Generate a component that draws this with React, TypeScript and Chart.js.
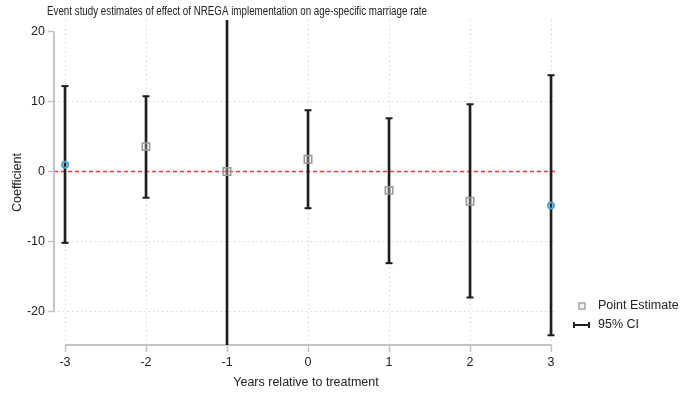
import { useEffect, useRef } from 'react';
import { Chart, registerables } from 'chart.js';

Chart.register(...registerables);

const years = [-3, -2, -1, 0, 1, 2, 3];
const estimates = [0.95, 3.55, 0.0, 1.75, -2.7, -4.25, -4.85];
const ciLower = [-10.2, -3.75, -40, -5.25, -13.1, -18.0, -23.4];
const ciUpper = [12.2, 10.75, 40, 8.75, 7.6, 9.6, 13.75];
const highlightYears = [-3, 3];
const xTicks = [-3, -2, -1, 0, 1, 2, 3];
const yTicks = [-20, -10, 0, 10, 20];

const titleText = 'Event study estimates of effect of NREGA implementation on age-specific marriage rate';
const xTitle = 'Years relative to treatment';
const yTitle = 'Coefficient';
const legendLabels = ['Point Estimate', '95% CI'];

const FONT = '"Liberation Sans", Arial, Helvetica, sans-serif';
const FS = 12.5;
const TEXT = '#222222';
const AXIS = '#c4c4c4';
const GRID = '#d6d6d6';
const CI_COLOR = '#1e1e1e';
const BLUE = '#4ea3da';
const SQUARE = '#9a9a9a';
const TITLE_WIDTH = 380;

const decor = {
  id: 'decor',
  beforeDatasetsDraw(chart: any) {
    const { ctx, chartArea, scales } = chart;
    const x = scales.x;
    const y = scales.y;
    ctx.save();
    ctx.strokeStyle = '#f23a3a';
    ctx.lineWidth = 1.5;
    ctx.setLineDash([4, 3]);
    const y0 = y.getPixelForValue(0);
    ctx.beginPath();
    ctx.moveTo(chartArea.left, y0);
    ctx.lineTo(chartArea.right, y0);
    ctx.stroke();
    ctx.setLineDash([]);
    ctx.strokeStyle = AXIS;
    ctx.lineWidth = 2;
    ctx.beginPath();
    ctx.moveTo(chartArea.left, y.getPixelForValue(yTicks[yTicks.length - 1]));
    ctx.lineTo(chartArea.left, y.getPixelForValue(yTicks[0]));
    ctx.stroke();
    ctx.beginPath();
    ctx.moveTo(x.getPixelForValue(xTicks[0]), chartArea.bottom);
    ctx.lineTo(x.getPixelForValue(xTicks[xTicks.length - 1]), chartArea.bottom);
    ctx.stroke();
    ctx.restore();
  },
  afterDraw(chart: any) {
    const { ctx } = chart;
    ctx.save();
    ctx.font = `${FS}px ${FONT}`;
    ctx.fillStyle = TEXT;
    ctx.textBaseline = 'middle';
    ctx.textAlign = 'left';
    // condensed title
    const w = ctx.measureText(titleText).width;
    ctx.save();
    ctx.translate(47, 12);
    ctx.scale(TITLE_WIDTH / w, 1);
    ctx.fillText(titleText, 0, 0);
    ctx.restore();
    // legend
    ctx.strokeStyle = SQUARE;
    ctx.lineWidth = 1.3;
    ctx.fillStyle = 'rgba(215,215,215,0.35)';
    ctx.fillRect(579, 303, 6, 6);
    ctx.strokeRect(579, 303, 6, 6);
    ctx.strokeStyle = CI_COLOR;
    ctx.lineWidth = 2;
    ctx.beginPath();
    ctx.moveTo(573, 325);
    ctx.lineTo(590, 325);
    ctx.moveTo(574, 322);
    ctx.lineTo(574, 328);
    ctx.moveTo(589, 322);
    ctx.lineTo(589, 328);
    ctx.stroke();
    ctx.fillStyle = TEXT;
    ctx.fillText(legendLabels[0], 598, 306);
    ctx.fillText(legendLabels[1], 598, 325);
    ctx.restore();
  },
};

export default function App() {
  const ref = useRef<HTMLCanvasElement | null>(null);
  useEffect(() => {
    document.body.style.margin = '0';
    const canvas = ref.current;
    if (!canvas) return;
    const isHi = (v: number) => highlightYears.includes(v);
    const chart = new Chart(canvas, {
      type: 'scatter',
      data: {
        datasets: [
          {
            type: 'bar',
            label: '95% CI',
            data: years.map((v, i) => ({ x: v, y: [ciLower[i], ciUpper[i]] })) as any,
            backgroundColor: CI_COLOR,
            borderWidth: 0,
            barThickness: 2,
            grouped: false,
            order: 3,
          } as any,
          {
            type: 'scatter',
            label: 'caps',
            data: years.flatMap((v, i) => [
              { x: v, y: ciLower[i] },
              { x: v, y: ciUpper[i] },
            ]),
            pointStyle: 'line',
            pointRadius: 3.5,
            pointBorderWidth: 2,
            borderColor: CI_COLOR,
            order: 2,
          } as any,
          {
            type: 'scatter',
            label: 'Point Estimate',
            data: years.map((v, i) => ({ x: v, y: estimates[i] })),
            pointStyle: years.map((v) => (isHi(v) ? 'circle' : 'rect')),
            pointRadius: years.map((v) => (isHi(v) ? 3 : 5.3)),
            pointBorderWidth: years.map((v) => (isHi(v) ? 2 : 1.5)),
            pointBorderColor: years.map((v) => (isHi(v) ? BLUE : SQUARE)),
            pointBackgroundColor: years.map((v) => (isHi(v) ? 'rgba(255,255,255,0)' : 'rgba(215,215,215,0.35)')),
            order: 1,
          } as any,
        ],
      },
      options: {
        animation: false,
        responsive: false,
        devicePixelRatio: 1,
        layout: { padding: { top: 20, right: 124, left: 0, bottom: 0 } },
        plugins: {
          legend: { display: false },
          title: { display: false },
          tooltip: { enabled: false },
        },
        scales: {
          x: {
            type: 'linear',
            min: -3.136,
            max: 3.086,
            offset: false,
            afterFit: (s: any) => {
              s.height = 50;
            },
            afterBuildTicks: (s: any) => {
              s.ticks = xTicks.map((v) => ({ value: v }));
            },
            ticks: {
              font: { family: FONT, size: FS },
              color: TEXT,
              padding: 3,
              callback: (v: any) => String(v),
            },
            grid: {
              offset: false,
              color: GRID,
              lineWidth: 1,
              drawTicks: true,
              tickLength: 7,
              tickColor: AXIS,
              tickWidth: 1.5,
            },
            border: { display: false, dash: [1.5, 3] },
            title: {
              display: true,
              text: xTitle,
              font: { family: FONT, size: FS },
              color: TEXT,
              padding: { top: 0, bottom: 5 },
            },
          },
          y: {
            type: 'linear',
            min: -24.79,
            max: 21.64,
            afterFit: (s: any) => {
              s.width = 54;
            },
            afterBuildTicks: (s: any) => {
              s.ticks = yTicks.map((v) => ({ value: v }));
            },
            ticks: {
              font: { family: FONT, size: FS },
              color: TEXT,
              padding: 3,
              callback: (v: any) => String(v),
            },
            grid: {
              color: (c: any) => (c.tick && c.tick.value === yTicks[yTicks.length - 1] ? 'rgba(0,0,0,0)' : GRID),
              lineWidth: 1,
              drawTicks: true,
              tickLength: 6,
              tickColor: AXIS,
              tickWidth: 1.5,
            },
            border: { display: false, dash: [1.5, 3] },
            title: {
              display: true,
              text: yTitle,
              font: { family: FONT, size: FS },
              color: TEXT,
              padding: { top: 10.5, bottom: 0 },
            },
          },
        },
      },
      plugins: [decor],
    } as any);
    return () => chart.destroy();
  }, []);
  return (
    <div style={{ width: 682, height: 395 }}>
      <canvas ref={ref} width={682} height={395} style={{ display: 'block' }} />
    </div>
  );
}
